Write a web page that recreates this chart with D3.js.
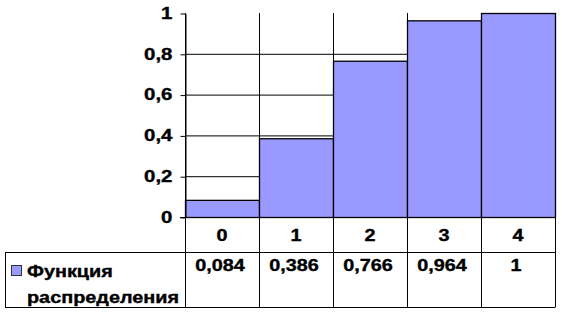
<!DOCTYPE html>
<html><head><meta charset="utf-8">
<script src="https://cdn.jsdelivr.net/npm/d3@7"></script>
<style>
body{margin:0;background:#fff;}
svg text{font-family:"Liberation Sans",Arial,sans-serif;font-weight:bold;font-size:16px;fill:#000;stroke:#000;stroke-width:0.35px;}
</style></head>
<body>
<svg id="chart" width="563" height="315"></svg>
<script>
const categories = ["0", "1", "2", "3", "4"];
const values = [0.084, 0.386, 0.766, 0.964, 1];
const valueLabels = ["0,084", "0,386", "0,766", "0,964", "1"];
const yTicks = [0, 0.2, 0.4, 0.6, 0.8, 1];
const seriesName = ["Функция", "распределения"];

const svg = d3.select("#chart");
const plotL = 185, plotR = 555, plotT = 13, plotB = 217;
const headB = 252, tableB = 307, tableL = 5;
const SX = 1.24;

const x = d3.scaleBand().domain(categories).range([plotL, plotR]).padding(0);
const y = d3.scaleLinear().domain([0, 1]).range([plotB, plotT]);

// gridlines (behind bars)
svg.append("g").selectAll("line").data(yTicks.filter(t => t > 0 && t < 1)).join("line")
  .attr("x1", plotL).attr("x2", plotR)
  .attr("y1", d => y(d) + 0.5).attr("y2", d => y(d) + 0.5)
  .attr("stroke", "#000").attr("stroke-width", 1);

// vertical category boundary lines through plot and table
const bounds = categories.map(c => x(c)).concat([plotR]);
svg.append("g").selectAll("line").data(bounds).join("line")
  .attr("x1", d => d + 0.5).attr("x2", d => d + 0.5)
  .attr("y1", plotT).attr("y2", tableB)
  .attr("stroke", "#000").attr("stroke-width", 1);

// bars
svg.append("g").selectAll("rect").data(values).join("rect")
  .attr("x", (d, i) => x(categories[i]) + 0.5)
  .attr("y", d => y(d) + 0.5)
  .attr("width", x.bandwidth())
  .attr("height", d => plotB - y(d))
  .attr("fill", "#9999FF").attr("stroke", "#000").attr("stroke-width", 1.3);

// y axis
const yAxis = svg.append("g").attr("transform", `translate(${plotL + 0.5},0.5)`)
  .call(d3.axisLeft(y).tickValues(yTicks).tickSize(5).tickSizeOuter(0)
    .tickFormat(d => String(d).replace(".", ",")));
yAxis.selectAll("path.domain").attr("stroke", "#000").attr("stroke-width", 1);
yAxis.selectAll(".tick line").attr("stroke", "#000");
yAxis.selectAll(".tick text")
  .attr("x", null).attr("dy", null)
  .attr("dominant-baseline", "central")
  .attr("text-anchor", "end")
  .attr("transform", `translate(-13,-1) scale(${SX},1)`)
  .style("font-family", "Liberation Sans, Arial, sans-serif")
  .style("font-size", "16.5px").style("font-weight", "bold");

// axis line at 0 extending into table
svg.append("line").attr("x1", plotL - 5).attr("x2", plotR + 0.5)
  .attr("y1", plotB + 0.5).attr("y2", plotB + 0.5).attr("stroke", "#000");

// table horizontal lines
[headB, tableB].forEach(yy => svg.append("line")
  .attr("x1", tableL).attr("x2", plotR + 0.5)
  .attr("y1", yy + 0.5).attr("y2", yy + 0.5).attr("stroke", "#000"));
svg.append("line").attr("x1", tableL + 0.5).attr("x2", tableL + 0.5)
  .attr("y1", headB).attr("y2", tableB + 0.5).attr("stroke", "#000");

// category labels
svg.append("g").selectAll("text").data(categories).join("text")
  .attr("text-anchor", "middle")
  .attr("transform", d => `translate(${x(d) + x.bandwidth() / 2},${241}) scale(${SX},1)`)
  .text(d => d);

// value labels
svg.append("g").selectAll("text").data(valueLabels).join("text")
  .attr("text-anchor", "middle")
  .attr("transform", (d, i) => `translate(${x(categories[i]) + x.bandwidth() / 2 - 2},${271}) scale(${SX},1)`)
  .text(d => d);

// legend key
svg.append("rect").attr("x", 11.5).attr("y", 265.5).attr("width", 10).attr("height", 10)
  .attr("fill", "#9999FF").attr("stroke", "#333").attr("stroke-width", 1);
svg.append("g").selectAll("text").data(seriesName).join("text")
  .attr("transform", (d, i) => `translate(27,${277 + i * 26}) scale(${SX},1)`)
  .text(d => d);
</script>
</body></html>
